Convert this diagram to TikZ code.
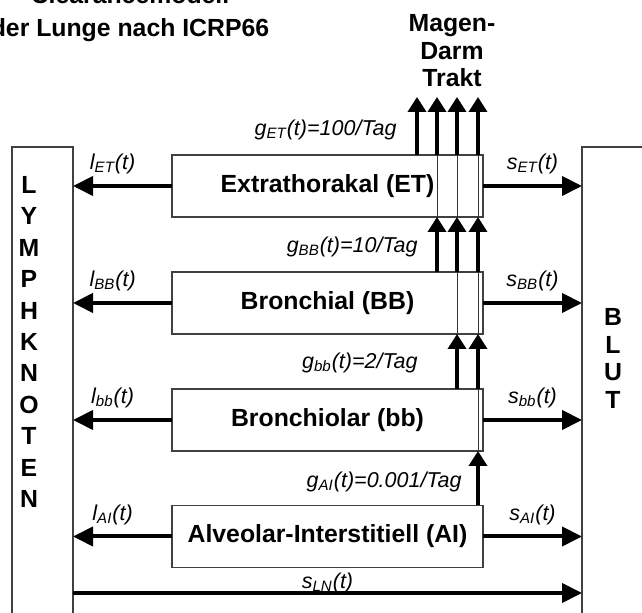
\documentclass[tikz,border=0pt]{standalone}
\usepackage{fontspec}
\setmainfont{Liberation Sans}
\usetikzlibrary{arrows.meta}

\begin{document}
\begin{tikzpicture}[x=0.5pt, y=0.5pt,
    kasten/.style={draw=black!75, line width=0.6pt, inner sep=0pt, outer sep=0pt,
        minimum width=155.5pt, minimum height=31pt, font=\fontsize{12.4}{15}\selectfont\bfseries},
    seite/.style={draw=black!75, line width=0.6pt, inner sep=0pt, outer sep=0pt, minimum height=246.5pt},
    fluss/.style={line width=2pt, -{Triangle[length=10pt, width=9.5pt]}},
    hoch/.style={line width=1.8pt, -{Triangle[length=7.5pt, width=9pt]}},
    durch/.style={line width=0.5pt, black!80},
    rate/.style={font=\fontsize{10.75}{13}\selectfont\itshape, inner sep=1pt},
    titel/.style={font=\fontsize{12.4}{15}\selectfont\bfseries, align=center}]

    \clip (0,0) rectangle (642,613);

    % 1. Titel und Magen-Darm-Trakt
    \node[titel, anchor=base] (titel1) at (130,609) {Clearancemodell};
    \node[titel, anchor=base] (titel2) at (130,576) {der Lunge nach ICRP66};
    \node[titel, font=\fontsize{12.4}{13.75}\selectfont\bfseries] (mdt) at (452,562) {Magen-\\Darm\\Trakt};

    % 2. Kompartimente der Lunge
    \node[kasten] (et) at (327.5,427) {Extrathorakal (ET)};
    \node[kasten] (bb) at (327.5,310) {Bronchial (BB)};
    \node[kasten] (bbl) at (327.5,193) {Bronchiolar (bb)};
    \node[kasten] (ai) at (327.5,76.5) {Alveolar-Interstitiell (AI)};

    % 3. Lymphknoten und Blut
    \node[seite, minimum width=30.5pt] (lymph) at (42.5,219.5) {};
    \node[seite, minimum width=39pt] (blut) at (621,219.5) {};
    \node[titel, font=\fontsize{12.4}{15.7}\selectfont\bfseries] (lk) at (29,271) {L\\Y\\M\\P\\H\\K\\N\\O\\T\\E\\N};
    \node[titel, font=\fontsize{12.4}{13.85}\selectfont\bfseries] (bl) at (613,254.5) {B\\L\\U\\T};

    % 4. Abfluss in Lymphe und Blut
    \foreach \k/\s in {et/ET, bb/BB, bbl/bb, ai/AI} {
        \draw[fluss] (\k.west) -- (lymph.east |- \k.west)
            node[rate, pos=0.6, above=4pt] (l\k) {l\textsubscript{\s}(t)};
        \draw[fluss] (\k.east) -- (blut.west |- \k.east)
            node[rate, midway, above=4pt] (s\k) {s\textsubscript{\s}(t)};
    }
    \coordinate (ln) at (0,20);
    \draw[fluss] (lymph.east |- ln) -- (blut.west |- ln)
        node[rate, midway, above=-2pt] (sln) {s\textsubscript{LN}(t)};

    % 5. Transport nach oben
    \coordinate (k1) at (417,516);
    \coordinate (k2) at (437,516);
    \coordinate (k3) at (457,516);
    \coordinate (k4) at (478,516);
    \foreach \c in {k1,k2,k3,k4} \draw[hoch] (\c |- et.north) -- (\c);
    \foreach \c in {k2,k3,k4} {
        \draw[durch] (\c |- et.south) -- (\c |- et.north);
        \draw[hoch] (\c |- bb.north) -- (\c |- et.south);
    }
    \foreach \c in {k3,k4} {
        \draw[durch] (\c |- bb.south) -- (\c |- bb.north);
        \draw[hoch] (\c |- bbl.north) -- (\c |- bb.south);
    }
    \draw[durch] (k4 |- bbl.south) -- (k4 |- bbl.north);
    \draw[hoch] (k4 |- ai.north) -- (k4 |- bbl.south);

    % 6. Raten
    \node[rate, anchor=east] (get) at (399,483) {g\textsubscript{ET}(t)=100/Tag};
    \node[rate, anchor=east] (gbb) at (420,366) {g\textsubscript{BB}(t)=10/Tag};
    \node[rate, anchor=east] (gbbl) at (420,250) {g\textsubscript{bb}(t)=2/Tag};
    \node[rate, anchor=east] (gai) at (464,131) {g\textsubscript{AI}(t)=0.001/Tag};

\end{tikzpicture}
\end{document}
